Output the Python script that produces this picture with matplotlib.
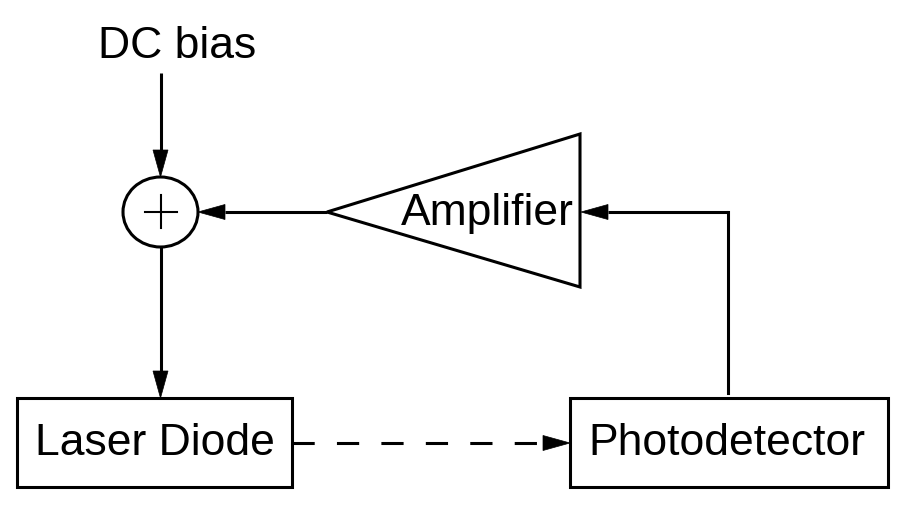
import matplotlib
matplotlib.use("Agg")
import matplotlib.pyplot as plt
from matplotlib.patches import Polygon, Rectangle, Ellipse

# Labels of the diagram blocks
input_label = "DC bias"
amp_label = "Amplifier"
source_label = "Laser Diode"
detector_label = "Photodetector"

W, H = 910, 505
LW = 2.2
FS = 32
plt.rcParams['font.family'] = ['Liberation Sans', 'DejaVu Sans']
plt.rcParams['lines.scale_dashes'] = False

fig = plt.figure(figsize=(W / 100, H / 100), dpi=100)
ax = fig.add_axes([0, 0, 1, 1])
ax.set_xlim(0, W)
ax.set_ylim(H, 0)
ax.axis('off')


def arrow(x0, y0, x1, y1, dashed=False, hl=27, hw=7.5):
    # line plus filled head ending at (x1, y1)
    dx, dy = x1 - x0, y1 - y0
    n = (dx ** 2 + dy ** 2) ** 0.5
    ux, uy = dx / n, dy / n
    bx, by = x1 - ux * hl, y1 - uy * hl
    ls = (0, (16, 16)) if dashed else '-'
    ax.plot([x0, bx], [y0, by], color='black', lw=LW, ls=ls, solid_capstyle='butt')
    head = [(x1, y1), (bx - uy * hw, by + ux * hw), (bx + uy * hw, by - ux * hw)]
    ax.add_patch(Polygon(head, closed=True, color='black', lw=0.5))


# summing junction
cx, cy = 160.5, 212
ax.add_patch(Ellipse((cx, cy), 75, 70, fill=False, ec='black', lw=LW))
ax.plot([145, 177], [cy, cy], color='black', lw=1.5)
ax.plot([cx, cx], [195, 228], color='black', lw=1.5)

# DC bias input
ax.text(177.5, 58, input_label, fontsize=FS, ha='center', va='baseline')
arrow(cx, 73, cx, 177)

# amplifier triangle
ax.add_patch(Polygon([(327, 212), (580, 134), (580, 287)], closed=True,
                     fill=False, ec='black', lw=LW, joinstyle='miter'))
ax.text(487.5, 225, amp_label, fontsize=FS, ha='center', va='baseline')
arrow(327, cy, 198, cy)

# feedback from photodetector to amplifier
ax.plot([728, 728], [393, 212], color='black', lw=LW)
arrow(728, 212, 581, 212)

# junction to laser diode
arrow(cx, 247, cx, 398)

# blocks
ax.add_patch(Rectangle((17, 398), 275, 89, fill=False, ec='black', lw=LW))
ax.text(155, 455, source_label, fontsize=FS, ha='center', va='baseline')
ax.add_patch(Rectangle((570, 398), 318, 89, fill=False, ec='black', lw=LW))
ax.text(727, 455, detector_label, fontsize=FS, ha='center', va='baseline')

# optical path
arrow(292, 443, 570, 443, dashed=True)

fig.savefig("out.png", dpi=100, facecolor='white')
